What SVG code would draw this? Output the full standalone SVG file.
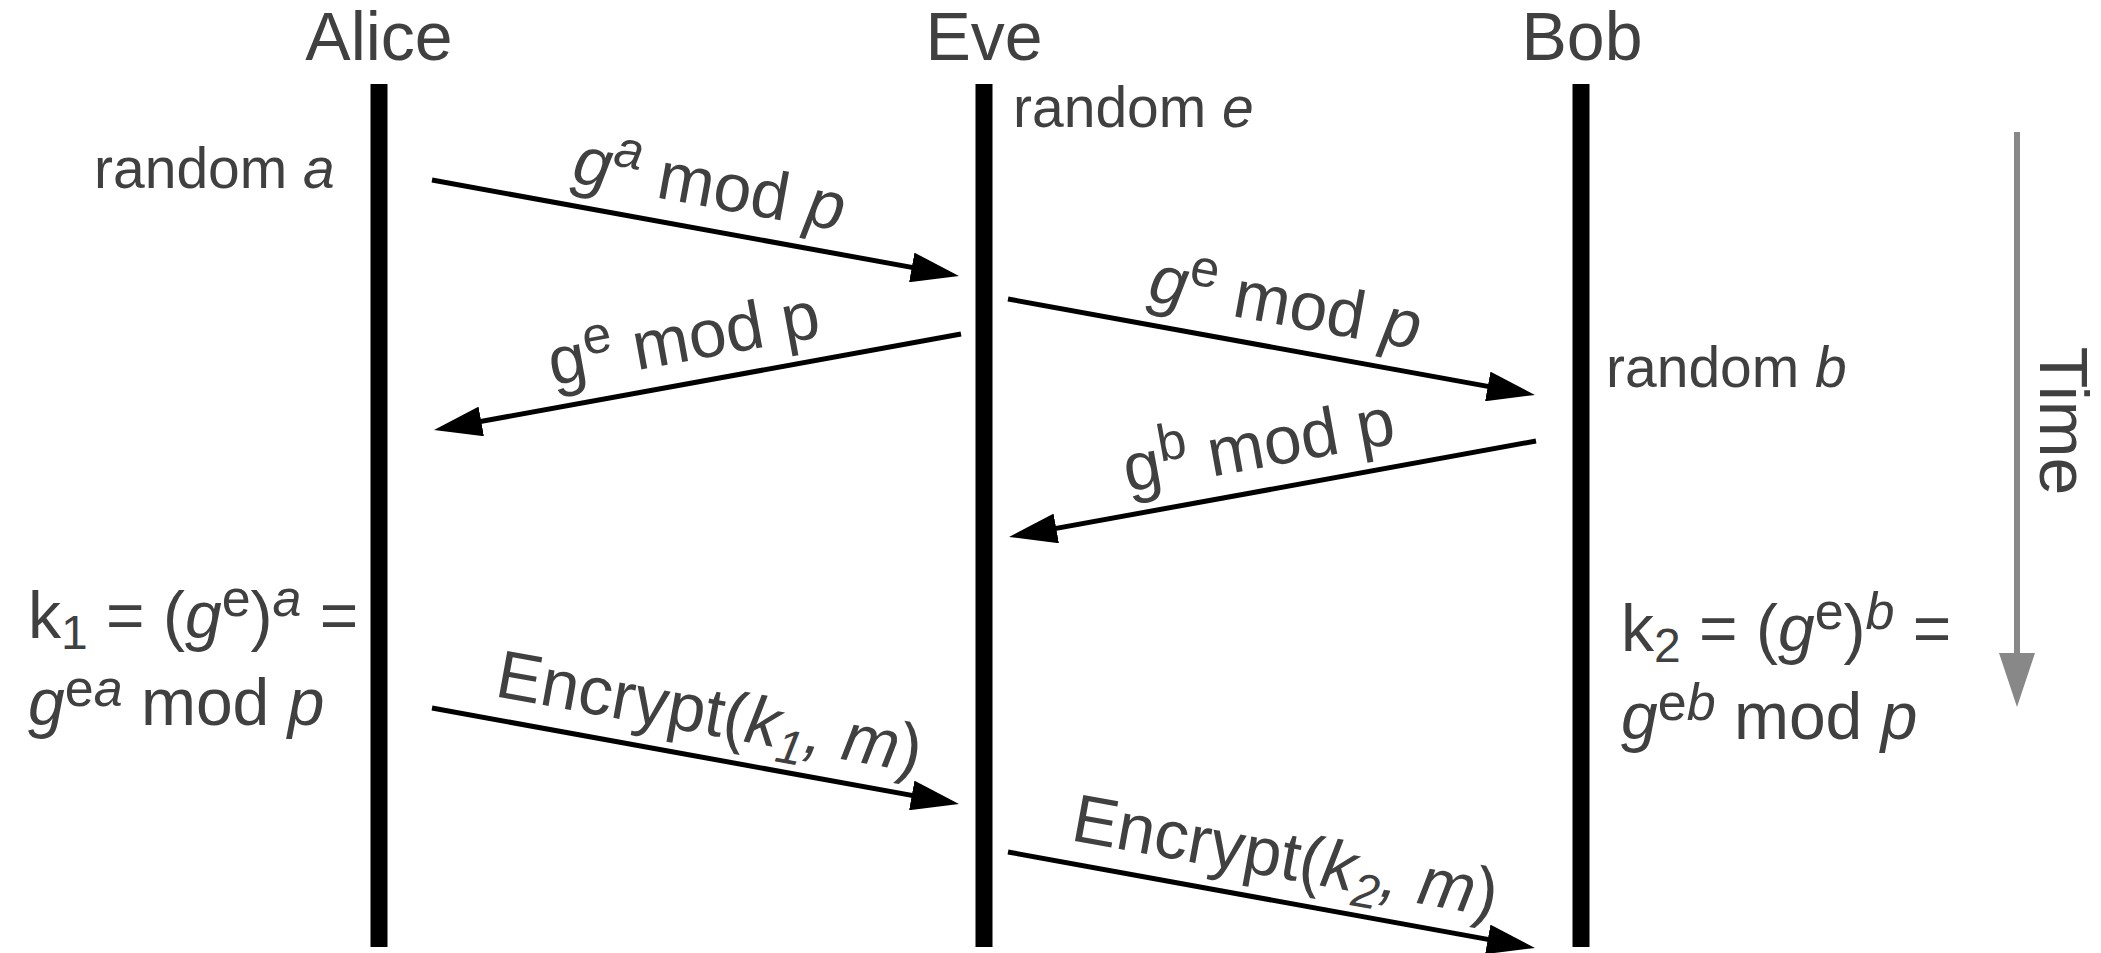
<svg xmlns="http://www.w3.org/2000/svg" width="2101" height="953" viewBox="0 0 2101 953">
<style>
text{font-family:"Liberation Sans",Arial,sans-serif;fill:#404040;}
.h{font-size:68px;text-anchor:middle;}
.lbl{font-size:68px;text-anchor:middle;}
.rnd{font-size:57px;}
.k{font-size:66px;}
.i{font-style:italic;}
.life{stroke:#000;stroke-width:17;}
.msg{stroke:#000;stroke-width:5;fill:none;marker-end:url(#ah);}
</style>
<defs>
<marker id="ah" markerUnits="userSpaceOnUse" markerWidth="48" markerHeight="30" refX="28" refY="15" orient="auto">
<path d="M0,0 L48,15 L0,30 z" fill="#000"/>
</marker>
</defs>
<rect width="2101" height="953" fill="#fff"/>
<g id="alice">
<text class="h" x="379" y="60">Alice</text>
<line class="life" x1="379" y1="84" x2="379" y2="947"/>
<text class="rnd" x="94" y="188">random <tspan class="i">a</tspan></text>
<text class="k" x="28" y="638">k<tspan font-size="48" dy="11">1</tspan><tspan dy="-11"> = (</tspan><tspan class="i">g</tspan><tspan font-size="52" dy="-22">e</tspan><tspan dy="22">)</tspan><tspan class="i" font-size="52" dy="-22">a</tspan><tspan dy="22"> =</tspan></text>
<text class="k" x="28" y="725"><tspan class="i">g</tspan><tspan font-size="52" dy="-19">e</tspan><tspan class="i" font-size="52">a</tspan><tspan dy="19"> mod </tspan><tspan class="i">p</tspan></text>
</g>
<g id="eve">
<text class="h" x="984" y="60">Eve</text>
<line class="life" x1="984" y1="84" x2="984" y2="947"/>
<text class="rnd" x="1013" y="127">random <tspan class="i">e</tspan></text>
</g>
<g id="bob">
<text class="h" x="1582" y="60">Bob</text>
<line class="life" x1="1581" y1="84" x2="1581" y2="947"/>
<text class="rnd" x="1606" y="387">random <tspan class="i">b</tspan></text>
<text class="k" x="1621" y="651">k<tspan font-size="48" dy="11">2</tspan><tspan dy="-11"> = (</tspan><tspan class="i">g</tspan><tspan font-size="52" dy="-22">e</tspan><tspan dy="22">)</tspan><tspan class="i" font-size="52" dy="-22">b</tspan><tspan dy="22"> =</tspan></text>
<text class="k" x="1621" y="739"><tspan class="i">g</tspan><tspan font-size="52" dy="-19">e</tspan><tspan class="i" font-size="52">b</tspan><tspan dy="19"> mod </tspan><tspan class="i">p</tspan></text>
</g>
<g id="time">
<line x1="2017" y1="132" x2="2017" y2="656" stroke="#888" stroke-width="6"/>
<polygon points="1999,653 2035,653 2017,707" fill="#888"/>
<text class="h" transform="translate(2040,421) rotate(90)">Time</text>
</g>
<g id="connectors">
<line class="msg" x1="432" y1="180" x2="939.3" y2="272.4"/>
<line class="msg" x1="961" y1="334" x2="453.7" y2="426.4"/>
<line class="msg" x1="1008" y1="299" x2="1515.3" y2="391.4"/>
<line class="msg" x1="1536" y1="441" x2="1028.7" y2="533.4"/>
<line class="msg" x1="432" y1="708" x2="939.3" y2="800.4"/>
<line class="msg" x1="1008" y1="852" x2="1515.3" y2="944.4"/>
<text class="lbl" transform="translate(705.5,206.5) rotate(10.3)"><tspan class="i">g</tspan><tspan class="i" font-size="52" dy="-24">a</tspan><tspan dy="24"> mod </tspan><tspan class="i">p</tspan></text>
<text class="lbl" transform="translate(687.5,361) rotate(-10.3)">g<tspan font-size="52" dy="-24">e</tspan><tspan dy="24"> mod p</tspan></text>
<text class="lbl" transform="translate(1281.5,325) rotate(10.3)"><tspan class="i">g</tspan><tspan font-size="52" dy="-24">e</tspan><tspan dy="24"> mod </tspan><tspan class="i">p</tspan></text>
<text class="lbl" transform="translate(1262.5,467.5) rotate(-10.3)">g<tspan font-size="52" dy="-24">b</tspan><tspan dy="24"> mod p</tspan></text>
<text class="lbl" transform="translate(705.5,734.5) rotate(10.3)">Encrypt(<tspan class="i">k</tspan><tspan class="i" font-size="48" dy="14">1</tspan><tspan class="i" dy="-14">, m</tspan>)</text>
<text class="lbl" transform="translate(1281.5,878.5) rotate(10.3)">Encrypt(<tspan class="i">k</tspan><tspan class="i" font-size="48" dy="14">2</tspan><tspan class="i" dy="-14">, m</tspan>)</text>
</g>
</svg>
